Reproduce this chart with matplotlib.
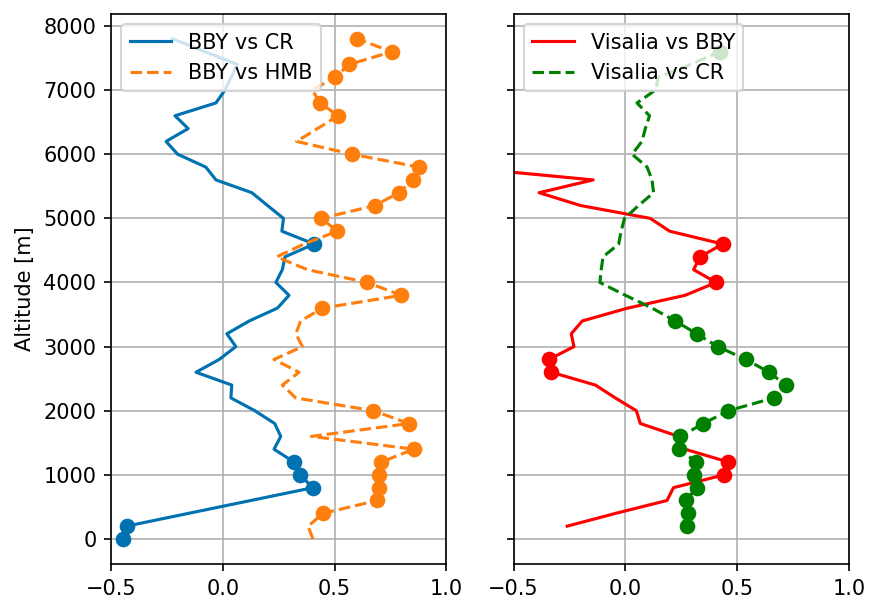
import matplotlib
matplotlib.use('Agg')
import matplotlib.pyplot as plt
import numpy as np

# altitude levels [m]
alt = np.array([0, 200, 400, 600, 800, 1000, 1200, 1400, 1600, 1800,
                2000, 2200, 2400, 2600, 2800, 3000, 3200, 3400, 3600, 3800,
                4000, 4200, 4400, 4600, 4800, 5000, 5200, 5400, 5600, 5800,
                6000, 6200, 6400, 6600, 6800, 7000, 7200, 7400, 7600, 7800])

nan = np.nan

bby_cr = np.array([-0.448, -0.43, -0.153, 0.125, 0.403, 0.344, 0.318, 0.229, 0.259, 0.232,
                   0.143, 0.036, 0.04, -0.12, -0.016, 0.058, 0.018, 0.118, 0.244, 0.296,
                   0.237, 0.266, 0.278, 0.408, 0.264, 0.271, 0.20, 0.13, -0.031, -0.076,
                   -0.202, -0.254, -0.155, -0.214, -0.031, 0.009, 0.037, 0.065, -0.08, -0.225])

bby_hmb = np.array([0.403, 0.381, 0.449, 0.69, 0.70, 0.70, 0.708, 0.854, 0.396, 0.832,
                    0.673, 0.326, 0.266, 0.341, 0.229, 0.356, 0.326, 0.348, 0.445, 0.798,
                    0.646, 0.378, 0.241, 0.363, 0.512, 0.44, 0.68, 0.787, 0.851, 0.876,
                    0.579, 0.330, 0.423, 0.515, 0.435, 0.40, 0.501, 0.564, 0.757, 0.598])

vis_bby = np.array([nan, -0.26, -0.043, 0.186, 0.215, 0.441, 0.46, 0.267, 0.238, 0.067,
                    0.049, -0.045, -0.134, -0.331, -0.342, -0.23, -0.242, -0.193, 0.01, 0.267,
                    0.406, 0.305, 0.334, 0.435, 0.198, 0.111, -0.2, -0.386, -0.144, -0.75,
                    nan, nan, nan, nan, nan, nan, nan, nan, nan, nan])

vis_cr = np.array([nan, 0.275, 0.282, 0.270, 0.319, 0.305, 0.316, 0.241, 0.245, 0.349,
                   0.46, 0.664, 0.716, 0.643, 0.538, 0.413, 0.319, 0.223, 0.12, 0.0,
                   -0.114, -0.108, -0.1, -0.03, -0.019, -0.004, 0.059, 0.126, 0.119, 0.097,
                   0.03, 0.074, 0.089, 0.108, 0.052, 0.134, 0.148, 0.29, 0.423, nan])

# altitudes where a marker is drawn (significant)
sig_bby_cr = [0, 200, 800, 1000, 1200, 4600]
sig_bby_hmb = [400, 600, 800, 1000, 1200, 1400, 1800, 2000, 3600, 3800, 4000,
               4800, 5000, 5200, 5400, 5600, 5800, 6000, 6600, 6800, 7200, 7400, 7600, 7800]
sig_vis_bby = [1000, 1200, 2600, 2800, 4000, 4400, 4600]
sig_vis_cr = [200, 400, 600, 800, 1000, 1200, 1400, 1600, 1800, 2000, 2200, 2400,
              2600, 2800, 3000, 3200, 3400, 7600]

blue = '#0072B2'
orange = '#ff7f0e'

fig, (ax1, ax2) = plt.subplots(1, 2, sharey=True, figsize=(8.77 / 1.5, 6.01 / 1.5), dpi=150)
fig.subplots_adjust(left=0.1266, right=0.9681, bottom=0.0616, top=0.977, wspace=0.2)


def draw(ax, vals, sig, color, ls, label):
    ax.plot(vals, alt, color=color, ls=ls, lw=1.5, label=label)
    m = np.isin(alt, sig)
    ax.plot(vals[m], alt[m], 'o', color=color, ms=6.5)


draw(ax1, bby_cr, sig_bby_cr, blue, '-', 'BBY vs CR')
draw(ax1, bby_hmb, sig_bby_hmb, orange, '--', 'BBY vs HMB')
draw(ax2, vis_bby, sig_vis_bby, 'r', '-', 'Visalia vs BBY')
draw(ax2, vis_cr, sig_vis_cr, 'g', '--', 'Visalia vs CR')

for ax in (ax1, ax2):
    ax.set_xlim(-0.5, 1.0)
    ax.set_xticks([-0.5, 0.0, 0.5, 1.0])
    ax.grid(True)
    ax.legend(loc='upper left')

ax1.set_ylabel('Altitude [m]')

fig.savefig('out.png', dpi=150)
